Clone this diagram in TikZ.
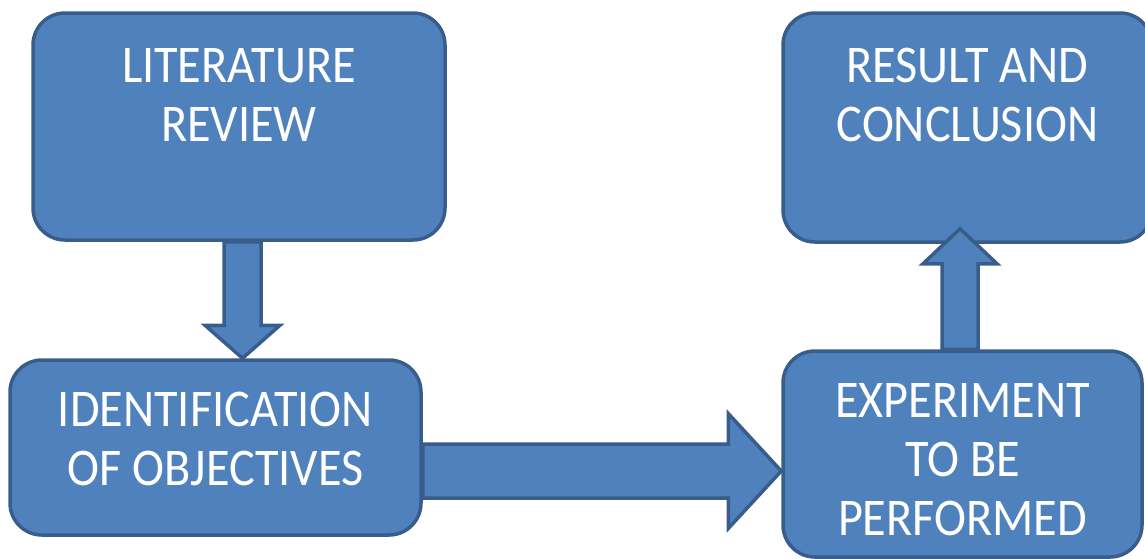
\documentclass[tikz,border=0pt]{standalone}
\usepackage{fontspec}
\setmainfont{Carlito}[FakeStretch=0.91]
\usetikzlibrary{calc}
\definecolor{boxblue}{HTML}{4F81BD}
\definecolor{boxedge}{HTML}{385D8A}
\begin{document}
\begin{tikzpicture}[x=1pt,y=-1pt,
  bluebox/.style={rectangle,rounded corners=32pt,draw=boxedge,fill=boxblue,line width=3.5pt,text=white,align=center,inner sep=0pt,font=\fontsize{53}{59}\selectfont},
  blockarrow/.style={draw=boxedge,fill=boxblue,line width=3.5pt,line join=miter}]
\useasboundingbox (0,0) rectangle (1145,558);
\node[bluebox,minimum width=412pt,text height=128pt,text depth=99pt] (lit) at (239,126.5) {LITERATURE\\REVIEW};
\node[bluebox,minimum width=411pt,text height=125pt,text depth=50pt] (obj) at (215.5,447.5) {IDENTIFICATION\\OF OBJECTIVES};
\node[bluebox,minimum width=359pt,text height=184pt,text depth=22pt] (exp) at (962.5,454) {EXPERIMENT\\TO BE\\PERFORMED};
\node[bluebox,minimum width=369pt,text height=128pt,text depth=101pt] (rc) at (967.5,127.5) {RESULT AND\\CONCLUSION};
\coordinate (a1) at ($(lit.south)+(3.5,0)$);
\coordinate (a1t) at (a1 |- obj.north);
\draw[blockarrow] ($(a1)+(-18.5,0)$) -- ($(a1t)+(-18.5,-33)$) -- ($(a1t)+(-37.5,-33)$) -- (a1t) -- ($(a1t)+(37.5,-33)$) -- ($(a1t)+(18.5,-33)$) -- ($(a1)+(18.5,0)$) -- cycle;
\coordinate (a2) at ($(obj.east)+(0,23.5)$);
\coordinate (a2t) at (exp.west |- a2);
\draw[blockarrow] ($(a2)+(0,-27)$) -- ($(a2t)+(-53,-27)$) -- ($(a2t)+(-53,-57.5)$) -- (a2t) -- ($(a2t)+(-53,57.5)$) -- ($(a2t)+(-53,27)$) -- ($(a2)+(0,27)$) -- cycle;
\coordinate (a3) at ($(exp.north)+(-2.5,0)$);
\coordinate (a3t) at ($(a3 |- rc.south)+(0,-15)$);
\draw[blockarrow] ($(a3)+(-18,0)$) -- ($(a3t)+(-18,35)$) -- ($(a3t)+(-37,35)$) -- (a3t) -- ($(a3t)+(37,35)$) -- ($(a3t)+(18,35)$) -- ($(a3)+(18,0)$) -- cycle;
\end{tikzpicture}
\end{document}
